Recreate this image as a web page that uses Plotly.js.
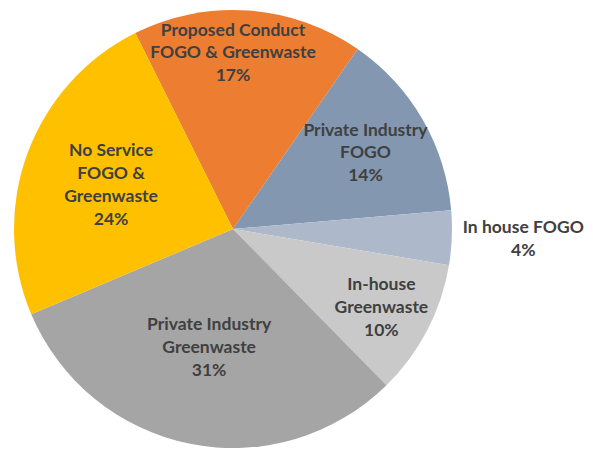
<!DOCTYPE html>
<html>
<head>
<meta charset="utf-8">
<script src="https://cdn.plot.ly/plotly-3.0.1.min.js"></script>
<style>html,body{margin:0;padding:0;background:#fff;}#chart{width:593px;height:449px;}</style>
</head>
<body>
<div id="chart"></div>
<script>
const categories = [
  "Proposed Conduct<br>FOGO & Greenwaste",
  "Private Industry<br>FOGO",
  "In house FOGO",
  "In-house<br>Greenwaste",
  "Private Industry<br>Greenwaste",
  "No Service<br>FOGO &<br>Greenwaste"
];
const values = [17, 14, 4, 10, 31, 24];
const colors = ["#ED7D31", "#8497B0", "#ADB9CA", "#C9C9C9", "#A5A5A5", "#FFC000"];
const textPositions = ["inside", "inside", "outside", "inside", "inside", "inside"];

const trace = {
  type: "pie",
  labels: categories,
  values: values,
  sort: false,
  direction: "clockwise",
  rotation: -26.5,
  marker: {colors: colors, line: {width: 0}},
  texttemplate: "%{label}<br>%{percent:.0%}",
  textposition: textPositions,
  insidetextorientation: "horizontal",
  textfont: {family: "Lato, 'Open Sans', sans-serif", size: 17.5, color: "#404040", weight: "bold"},
  hoverinfo: "none",
  showlegend: false,
  domain: {x: [0.0236, 0.7622], y: [0.0022, 0.9777]}
};

const layout = {
  width: 593,
  height: 449,
  margin: {l: 0, r: 0, t: 0, b: 0},
  paper_bgcolor: "#ffffff",
  plot_bgcolor: "#ffffff",
  uniformtext: {minsize: 17.5, mode: "show"},
  font: {family: "Lato, 'Open Sans', sans-serif", color: "#404040"}
};

Plotly.newPlot("chart", [trace], layout, {displayModeBar: false, staticPlot: true});
</script>
</body>
</html>
